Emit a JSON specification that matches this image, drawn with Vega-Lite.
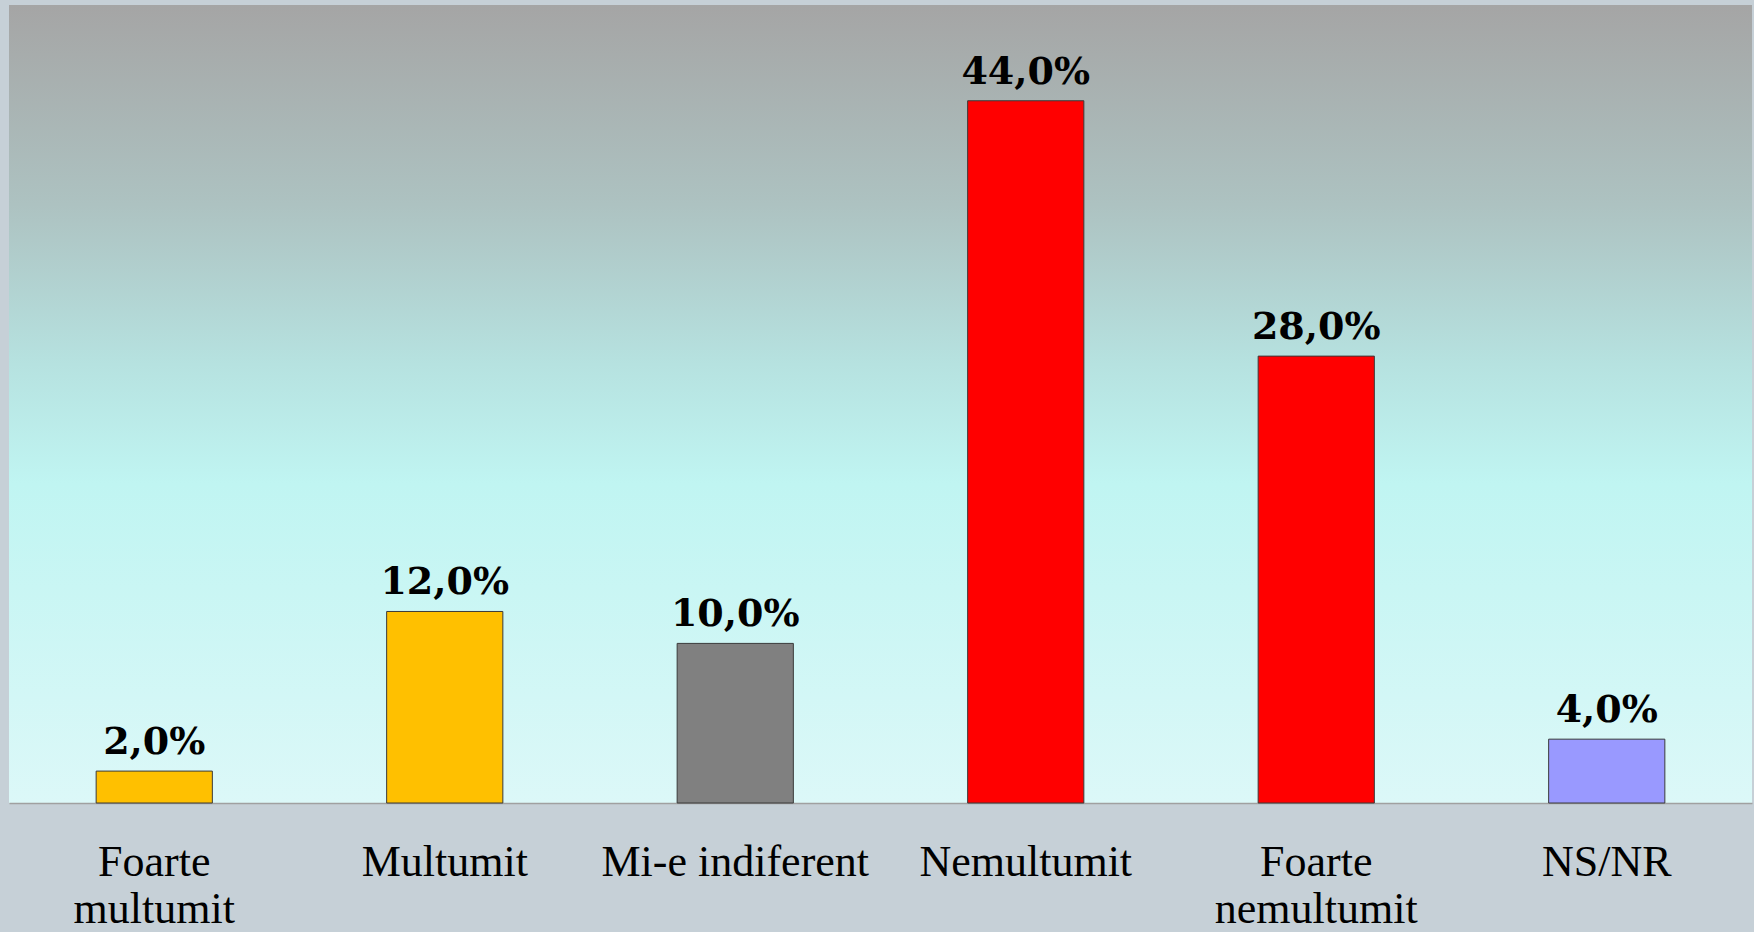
{
  "$schema": "https://vega.github.io/schema/vega-lite/v6.json",
  "width": 1743,
  "height": 798,
  "autosize": {"type": "none"},
  "padding": {"left": 9, "top": 5, "right": 2, "bottom": 129},
  "background": "#c6d0d7",
  "view": {
    "stroke": null,
    "fill": {
      "gradient": "linear",
      "x1": 0, "y1": 0, "x2": 0, "y2": 1,
      "stops": [
        {"offset": 0, "color": "#a5a5a5"},
        {"offset": 0.25, "color": "#adc2c1"},
        {"offset": 0.45, "color": "#b6e2e0"},
        {"offset": 0.6, "color": "#c0f5f2"},
        {"offset": 1, "color": "#dcf8f8"}
      ]
    }
  },
  "data": {
    "values": [
      {"cat": "Foarte multumit", "value": 2.0, "label": "2,0%"},
      {"cat": "Multumit", "value": 12.0, "label": "12,0%"},
      {"cat": "Mi-e indiferent", "value": 10.0, "label": "10,0%"},
      {"cat": "Nemultumit", "value": 44.0, "label": "44,0%"},
      {"cat": "Foarte nemultumit", "value": 28.0, "label": "28,0%"},
      {"cat": "NS/NR", "value": 4.0, "label": "4,0%"}
    ]
  },
  "encoding": {
    "x": {
      "field": "cat", "type": "nominal", "sort": null,
      "scale": {"paddingInner": 0.6, "paddingOuter": 0.3},
      "axis": {
        "title": null,
        "ticks": false,
        "domain": true,
        "domainColor": "#a0a0a0",
        "domainWidth": 1.5,
        "labelAngle": 0,
        "labelFont": "Liberation Serif",
        "labelFontSize": 44,
        "labelColor": "#000000",
        "labelBaseline": "alphabetic",
        "labelPadding": 72,
        "labelLineHeight": 47,
        "labelOverlap": false,
        "labelLimit": 500,
        "labelExpr": "datum.value == 'Foarte multumit' ? ['Foarte', 'multumit'] : datum.value == 'Foarte nemultumit' ? ['Foarte', 'nemultumit'] : datum.value"
      }
    },
    "y": {
      "field": "value", "type": "quantitative",
      "scale": {"domain": [0, 50], "nice": false, "zero": true},
      "axis": null
    }
  },
  "layer": [
    {
      "mark": {"type": "bar", "stroke": "#3a3a3a", "strokeWidth": 1},
      "encoding": {
        "color": {
          "field": "cat", "type": "nominal",
          "scale": {
            "domain": ["Foarte multumit", "Multumit", "Mi-e indiferent", "Nemultumit", "Foarte nemultumit", "NS/NR"],
            "range": ["#ffc000", "#ffc000", "#808080", "#ff0000", "#ff0000", "#9999ff"]
          },
          "legend": null
        }
      }
    },
    {
      "mark": {"type": "text", "baseline": "alphabetic", "dy": -17, "font": "DejaVu Serif", "fontWeight": "bold", "fontSize": 38, "color": "#000000"},
      "encoding": {
        "text": {"field": "label", "type": "nominal"}
      }
    }
  ]
}
